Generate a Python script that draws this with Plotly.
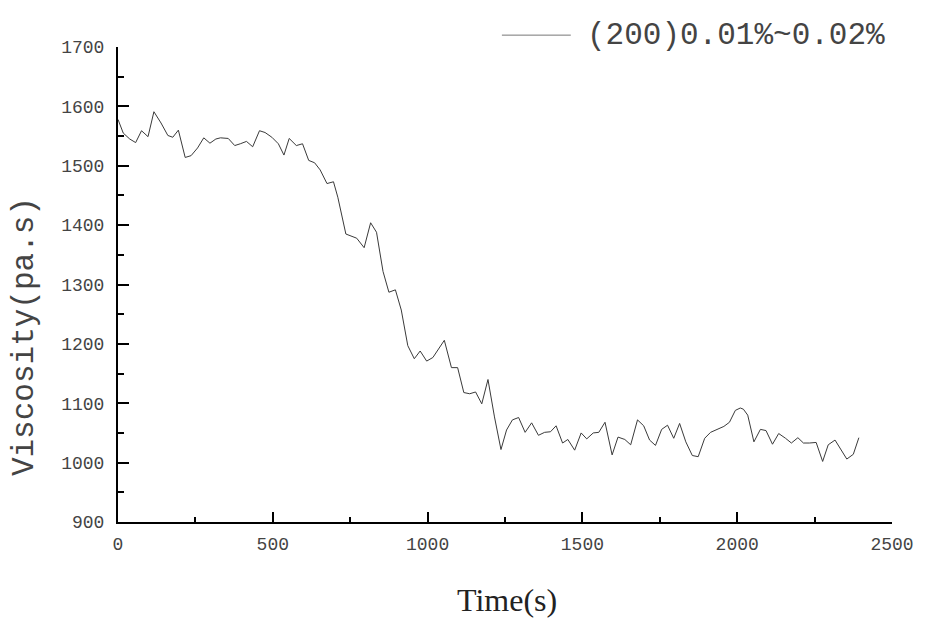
import plotly.graph_objects as go

time_s = [0, 17, 38, 57, 76, 97, 116, 139, 161, 177, 195, 217, 236, 257, 277, 297, 316, 331,
          356, 377, 395, 415, 435, 457, 475, 497, 518, 536, 553, 576, 596, 616, 635, 653,
          675, 696, 710, 736, 771, 795, 816, 835, 856, 875, 896, 915, 936, 957, 976, 997,
          1017, 1054, 1077, 1097, 1117, 1136, 1155, 1175, 1195, 1216, 1237, 1255, 1274,
          1294, 1315, 1336, 1358, 1378, 1397, 1415, 1436, 1453, 1475, 1496, 1514, 1535,
          1553, 1573, 1596, 1615, 1637, 1656, 1678, 1698, 1717, 1736, 1756, 1775, 1795,
          1814, 1834, 1855, 1874, 1895, 1914, 1935, 1957, 1975, 1994, 2010, 2020, 2034,
          2054, 2075, 2093, 2114, 2134, 2156, 2175, 2196, 2214, 2233, 2255, 2276, 2294,
          2316, 2335, 2354, 2375, 2393]
viscosity = [1578, 1555, 1545, 1539, 1559, 1549, 1591, 1572, 1551, 1548, 1560, 1514, 1517,
             1530, 1547, 1538, 1545, 1547, 1546, 1534, 1537, 1541, 1532, 1559, 1556, 1548,
             1537, 1518, 1546, 1534, 1537, 1509, 1505, 1493, 1470, 1473, 1447, 1385, 1378,
             1362, 1404, 1388, 1322, 1287, 1291, 1257, 1197, 1175, 1188, 1171, 1177, 1206,
             1160, 1160, 1118, 1116, 1119, 1099, 1140, 1077, 1022, 1055, 1072, 1076, 1051,
             1067, 1046, 1051, 1052, 1062, 1033, 1039, 1021, 1050, 1040, 1050, 1051, 1068,
             1013, 1043, 1039, 1030, 1072, 1062, 1038, 1029, 1056, 1063, 1041, 1066, 1035,
             1012, 1010, 1041, 1051, 1056, 1061, 1068, 1088, 1092, 1090, 1080, 1035, 1056,
             1054, 1031, 1049, 1041, 1033, 1042, 1033, 1033, 1034, 1002, 1030, 1038, 1021,
             1006, 1014, 1042]
series_name = "(200)0.01%~0.02%"
x_title = "Time(s)"
y_title = "Viscosity(pa.s)"

mono = "Liberation Mono, Courier New, monospace"
label_color = "#444444"

fig = go.Figure()
fig.add_trace(go.Scatter(x=time_s, y=viscosity, mode="lines", name=series_name,
                         line=dict(color="#3a3a3a", width=1), showlegend=False))

fig.update_layout(
    width=926, height=640,
    margin=dict(l=118, r=18, t=47, b=118),
    paper_bgcolor="white", plot_bgcolor="white",
    font=dict(family=mono, color=label_color),
)
fig.update_xaxes(range=[0, 2500], dtick=500, tick0=0, showgrid=False, zeroline=False,
                 showline=True, linecolor="black", linewidth=2,
                 ticks="inside", ticklen=10, tickwidth=2, tickcolor="black",
                 minor=dict(dtick=250, ticks="inside", ticklen=5, tickwidth=1.5, tickcolor="black"),
                 tickfont=dict(family=mono, size=18, color=label_color), ticklabelstandoff=4,
                 ticklabeloverflow="allow")
fig.update_yaxes(range=[900, 1700], dtick=100, tick0=900, showgrid=False, zeroline=False,
                 showline=True, linecolor="black", linewidth=2,
                 ticks="inside", ticklen=11, tickwidth=2, tickcolor="black",
                 minor=dict(dtick=50, ticks="inside", ticklen=6, tickwidth=1.5, tickcolor="black"),
                 tickfont=dict(family=mono, size=18, color=label_color), ticklabelstandoff=8,
                 ticklabeloverflow="allow")

# axis titles
fig.add_annotation(text=y_title, xref="paper", yref="paper", x=-0.121, y=0.39,
                   textangle=-90, showarrow=False, xanchor="center", yanchor="middle",
                   font=dict(family=mono, size=31, color=label_color))
fig.add_annotation(text=x_title, xref="paper", yref="paper", x=0.503, y=-0.164,
                   showarrow=False, xanchor="center", yanchor="middle",
                   font=dict(family="Liberation Serif, Times New Roman, serif", size=32, color="#222222"))

# legend (manual)
fig.add_shape(type="line", xref="paper", yref="paper", x0=0.496, x1=0.585,
              y0=1.025, y1=1.025, line=dict(color="#777777", width=1))
fig.add_annotation(text=series_name, xref="paper", yref="paper", x=0.604, y=1.025,
                   showarrow=False, xanchor="left", yanchor="middle",
                   font=dict(family=mono, size=31, color=label_color))

fig.write_html("out.html")
